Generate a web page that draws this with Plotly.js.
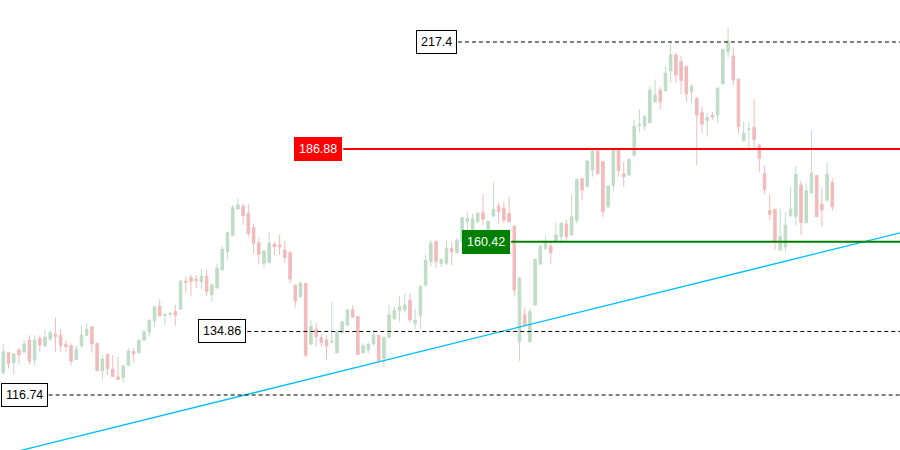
<!DOCTYPE html>
<html>
<head>
<meta charset="utf-8">
<script src="https://cdn.plot.ly/plotly-3.0.1.min.js"></script>
<style>
  html, body { margin: 0; padding: 0; background: #fff; }
  #grafico { width: 900px; height: 450px; }
</style>
</head>
<body>
<div id="grafico"></div>
<script>
// DATOS (una vela por sesion)
var aperturas = [123.1,128.8,126.0,129.6,129.0,132.4,126.7,132.9,130.7,132.7,
  134.1,133.8,131.1,130.8,126.9,130.8,133.8,136.2,131.5,123.7,
  128.3,124.1,121.9,121.7,125.2,129.1,128.8,132.4,134.8,137.9,
  142.1,139.5,139.7,140.5,141.2,149.2,150.2,149.8,149.0,150.6,
  145.3,147.3,152.4,157.6,162.2,169.8,170.6,168.5,164.5,160.2,
  154.3,154.5,159.7,159.5,158.1,157.3,148.1,144.8,148.6,131.3,
  135.5,133.1,132.4,131.8,128.8,134.5,136.7,141.0,139.1,128.8,
  129.6,131.3,133.8,127.2,133.2,138.6,140.8,141.0,143.8,137.2,
  139.4,148.1,154.8,160.5,154.3,154.3,158.6,157.3,160.5,166.2,
  163.3,166.2,168.7,163.3,167.8,170.6,170.0,168.5,164.9,131.9,
  139.6,131.9,142.4,154.1,158.6,159.2,160.5,161.9,165.5,162.4,
  166.6,178.5,176.1,180.9,186.3,183.3,170.4,176.6,186.6,179.8,
  179.5,185.2,193.6,193.4,194.4,200.4,203.7,203.5,209.2,213.7,
  211.8,210.4,203.2,201.3,197.3,195.0,196.4,196.6,205.4,214.6,
  213.4,206.8,189.3,192.4,193.1,188.0,179.9,169.3,169.7,158.1,
  159.0,167.8,167.6,176.6,165.9,174.4,179.3,171.1,172.3,177.4];

var maximos = [131.3,129.1,128.6,130.0,132.4,133.8,133.7,133.8,135.3,135.3,
  138.8,135.5,132.4,131.5,130.8,136.5,137.2,136.3,131.6,128.1,
  128.6,128.1,127.6,125.3,130.0,130.0,132.6,135.3,138.3,142.1,
  144.1,140.2,140.5,142.4,149.5,150.5,150.9,150.9,152.7,152.4,
  148.6,154.3,159.2,163.3,170.9,172.8,171.2,171.2,165.7,161.7,
  158.1,163.3,160.5,162.4,160.7,157.8,148.1,149.1,148.6,138.1,
  137.2,134.3,133.8,143.3,135.3,137.9,141.2,142.4,139.1,131.5,
  131.7,135.3,133.8,133.4,142.4,141.9,145.0,145.7,145.7,141.2,
  148.1,156.7,160.9,160.9,155.7,160.7,160.5,161.4,167.6,169.0,
  168.5,169.0,174.1,166.6,177.3,171.6,171.9,173.3,165.2,150.5,
  141.7,141.5,155.7,159.5,161.9,160.5,165.9,165.9,166.6,173.8,
  178.5,178.5,183.7,186.6,186.6,183.3,176.6,187.1,187.1,183.3,
  184.2,195.2,198.2,196.6,204.7,206.7,204.7,210.4,217.0,214.4,
  213.4,210.6,205.4,201.8,199.1,197.2,197.5,204.5,215.6,221.6,
  215.9,206.8,194.7,194.7,201.1,188.3,182.1,174.0,169.7,170.0,
  169.0,176.1,182.0,177.8,177.1,192.1,179.3,175.9,183.1,178.5];

var minimos = [122.6,124.3,122.6,125.5,128.8,125.5,125.1,129.1,130.5,132.1,
  128.9,129.1,129.1,125.2,126.7,130.2,133.5,128.8,123.6,121.0,
  122.4,121.9,121.1,120.3,125.0,126.0,128.6,132.2,133.5,136.2,
  139.1,136.8,138.9,136.5,141.0,145.9,144.8,147.2,146.9,145.0,
  143.5,147.1,152.2,155.4,162.1,169.7,165.2,161.7,157.1,154.0,
  153.0,154.3,156.7,156.7,154.5,148.6,141.7,144.3,127.5,131.0,
  130.5,130.5,126.7,131.5,128.6,134.3,136.4,138.6,128.1,128.6,
  128.6,131.0,125.8,124.8,132.9,138.1,137.6,140.2,137.6,135.5,
  135.5,147.6,153.3,152.9,153.3,153.8,153.8,157.1,160.0,163.0,
  161.9,165.7,165.2,161.9,167.6,165.7,165.7,165.7,144.8,126.5,
  136.4,131.7,142.4,153.8,158.1,154.1,160.5,160.2,160.9,162.1,
  165.7,172.3,176.1,179.0,179.5,167.4,170.0,174.7,179.0,176.1,
  179.2,184.5,191.8,192.3,194.2,200.1,198.2,203.2,205.9,205.8,
  202.6,200.4,199.9,182.3,191.4,190.4,195.2,194.4,205.4,213.0,
  205.1,191.4,189.0,187.1,187.1,180.4,174.2,166.6,158.1,157.9,
  157.6,167.6,165.2,162.4,165.7,174.0,167.4,164.7,171.9,169.3];

var cierres = [129.1,125.8,128.4,128.2,131.3,126.4,132.4,131.0,133.2,134.5,
  133.4,130.8,130.6,126.4,129.8,133.8,135.5,131.3,123.7,127.0,
  124.3,122.0,121.2,125.0,129.3,128.5,132.3,134.7,138.1,141.9,
  139.3,139.7,140.0,139.5,149.2,148.9,149.2,149.3,150.6,146.2,
  148.1,152.9,158.3,163.1,170.2,170.9,167.9,162.8,160.0,156.9,
  157.8,160.0,159.0,159.0,155.9,149.8,143.6,148.6,128.1,136.4,
  133.4,131.7,130.7,132.1,134.6,137.6,141.0,138.9,128.3,130.8,
  131.2,133.8,126.5,133.2,139.6,140.8,141.9,142.4,138.1,138.1,
  147.6,155.2,160.0,154.8,155.4,158.6,157.6,160.9,167.3,167.1,
  167.1,168.5,166.8,166.2,169.7,169.0,166.6,166.2,146.7,150.0,
  136.7,140.5,155.4,159.2,160.5,157.3,162.4,165.7,161.9,167.6,
  178.2,175.2,183.5,186.3,179.9,169.0,176.3,186.6,180.7,179.0,
  183.9,193.4,193.9,196.1,203.7,202.3,200.4,208.5,213.7,208.0,
  206.4,202.6,204.7,196.6,194.0,195.9,196.0,204.2,215.3,217.7,
  206.6,193.3,191.4,192.6,189.6,184.2,175.4,168.3,160.5,161.9,
  165.2,169.7,179.7,165.9,175.0,179.9,167.6,169.5,179.7,170.4];

// niveles horizontales
var niveles = [217.4, 186.88, 160.42, 134.86, 116.74];
var niveles_texto = ["217.4", "186.88", "160.42", "134.86", "116.74"];
var niveles_inicio = [87.2, 65.2, 97.4, 46.8, 8.7];

// linea de tendencia
var tendencia_x = [0, 172];
var tendencia_y = [99.7, 163.0];

var sesiones = [];
for (let i = 0; i < cierres.length; i++) {
  sesiones.push(i);
}

// ESTILO DE CADA NIVEL
var estilos = [
  {linea: "#000000", dash: "4px,3px", ancho: 1, fondo: "#ffffff", borde: "#000000", letra: "#000000"},
  {linea: "#ff0000", dash: "solid", ancho: 2, fondo: "#ff0000", borde: "#ff0000", letra: "#ffffff"},
  {linea: "#008000", dash: "solid", ancho: 2, fondo: "#008000", borde: "#008000", letra: "#ffffff"},
  {linea: "#000000", dash: "4px,3px", ancho: 1, fondo: "#ffffff", borde: "#000000", letra: "#000000"},
  {linea: "#000000", dash: "4px,3px", ancho: 1, fondo: "#ffffff", borde: "#000000", letra: "#000000"}
];

var velas = {
  x: sesiones,
  open: aperturas,
  high: maximos,
  low: minimos,
  close: cierres,
  type: "candlestick",
  whiskerwidth: 0,
  increasing: {line: {color: "#bfdcc6", width: 1}, fillcolor: "#bfdcc6"},
  decreasing: {line: {color: "#f1bbbb", width: 1}, fillcolor: "#f1bbbb"},
  hoverinfo: "none",
  showlegend: false
};

var linea_tend = {
  x: tendencia_x,
  y: tendencia_y,
  type: "scatter",
  mode: "lines",
  line: {color: "#00bfff", width: 1.3},
  hoverinfo: "none",
  showlegend: false
};

var formas = [];
var notas = [];
for (let i = 0; i < niveles.length; i++) {
  const e = estilos[i];
  formas.push({
    type: "line", xref: "x", yref: "y",
    x0: niveles_inicio[i], x1: tendencia_x[1],
    y0: niveles[i], y1: niveles[i],
    line: {color: e.linea, width: e.ancho, dash: e.dash}
  });
  notas.push({
    x: niveles_inicio[i], y: niveles[i], xref: "x", yref: "y",
    text: niveles_texto[i], showarrow: false,
    xanchor: "right", yanchor: "middle", xshift: -1,
    bgcolor: e.fondo, bordercolor: e.borde, borderwidth: 1, borderpad: 4,
    font: {family: "Liberation Sans, Arial, sans-serif", size: 12.5, color: e.letra}
  });
}

var layout = {
  width: 900,
  height: 450,
  margin: {l: 0, r: 0, t: 0, b: 0},
  paper_bgcolor: "#ffffff",
  plot_bgcolor: "#ffffff",
  showlegend: false,
  xaxis: {range: [-0.63, 171.98], visible: false, rangeslider: {visible: false}, fixedrange: true},
  yaxis: {range: [101.06, 229.38], visible: false, fixedrange: true},
  shapes: formas,
  annotations: notas
};

Plotly.newPlot("grafico", [velas, linea_tend], layout, {displayModeBar: false, staticPlot: true});
</script>
</body>
</html>
